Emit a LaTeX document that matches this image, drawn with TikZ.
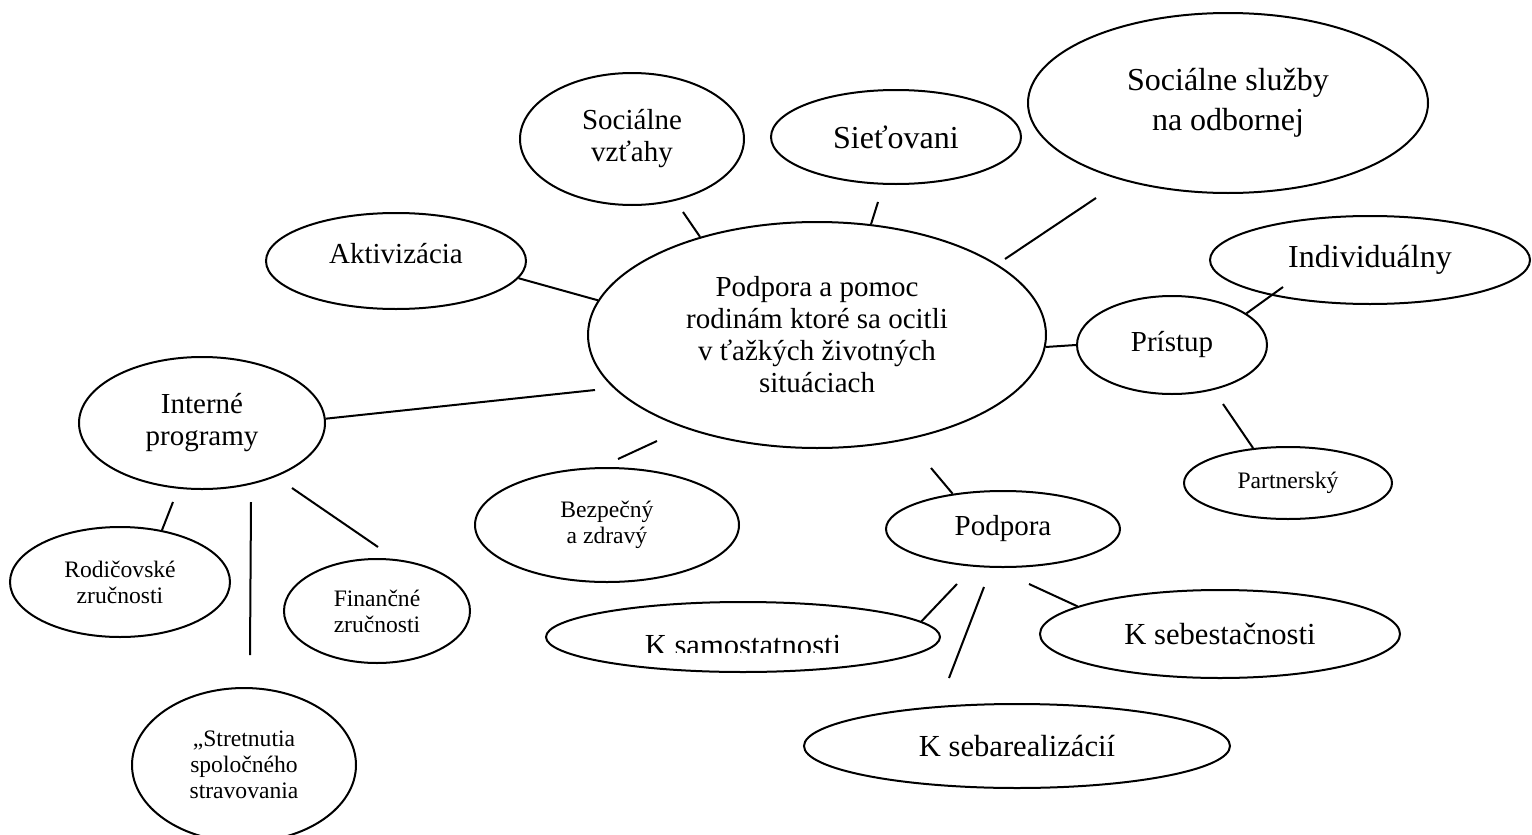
\documentclass[tikz,border=0pt]{standalone}
\usepackage{fontspec}
\setmainfont{Liberation Serif}
\usepackage{tikz}
\usetikzlibrary{shapes.geometric}

\tikzset{
	bubble/.style={ellipse, draw, line width=1pt, inner sep=0pt, align=center},
	bigtxt/.style={font=\fontsize{16}{20}\selectfont},
	ktxt/.style={font=\fontsize{15.3}{18}\selectfont},
	midtxt/.style={font=\fontsize{14.5}{16}\selectfont},
	smalltxt/.style={font=\fontsize{11.8}{12.9}\selectfont},
	link/.style={line width=1pt}
}

\begin{document}
\begin{tikzpicture}[x=0.5pt, y=-0.5pt]
	\clip (0,0) rectangle (1532,835);
	\fill [white] (0,0) rectangle (1532,835);

	% Centre
	\node [bubble, midtxt, minimum width=229pt, minimum height=113pt] at (817,335) (center) {Podpora a pomoc\\rodinám ktoré sa ocitli\\v ťažkých životných\\situáciach};

	% Upper ring
	\node [bubble, midtxt, minimum width=112pt, minimum height=66pt] at (632,139) (vztahy) {Sociálne\\vzťahy};
	\node [bubble, bigtxt, minimum width=125pt, minimum height=47pt] at (896,137) (siet) {Sieťovani};
	\node [bubble, bigtxt, minimum width=200pt, minimum height=90pt] at (1228,103) (sluzby) {Sociálne služby\\na odbornej};
	\node [bubble, midtxt, text depth=8pt, minimum width=130pt, minimum height=48pt] at (396,261) (aktiv) {Aktivizácia};

	% Right branch
	\node [bubble, midtxt, minimum width=95pt, minimum height=49pt] at (1172,345) (pristup) {Prístup};
	\node [bubble, bigtxt, minimum width=160pt, minimum height=44pt] at (1370,260) (indiv) {Individuálny};
	\node [bubble, smalltxt, minimum width=104pt, minimum height=36pt] at (1288,483) (partner) {Partnerský};

	% Left branch
	\node [bubble, midtxt, minimum width=123pt, minimum height=66pt] at (202,423) (interne) {Interné\\programy};
	\node [bubble, smalltxt, minimum width=110pt, minimum height=55pt] at (120,582) (rodic) {Rodičovské\\zručnosti};
	\node [bubble, smalltxt, minimum width=93pt, minimum height=52pt] at (377,611) (financ) {Finančné\\zručnosti};
	\node [bubble, smalltxt, minimum width=112pt, minimum height=77pt] at (244,765) (stretn) {„Stretnutia\\spoločného\\stravovania};

	% Lower branch
	\node [bubble, smalltxt, minimum width=132pt, minimum height=57pt] at (607,525) (bezpec) {Bezpečný\\a zdravý};
	\node [bubble, midtxt, minimum width=117pt, minimum height=38pt] at (1003,529) (podpora) {Podpora};
	\node [bubble, minimum width=197pt, minimum height=35pt] at (743,637) (samost) {};
	\begin{scope}
		\clip (546,600) rectangle (940,652);
		\node [ktxt, anchor=base] at (743,655) (samosttext) {K samostatnosti};
	\end{scope}
	\node [bubble, ktxt, minimum width=180pt, minimum height=44pt] at (1220,634) (sebest) {K sebestačnosti};
	\node [bubble, ktxt, minimum width=213pt, minimum height=42pt] at (1017,746) (sebareal) {K sebarealizácií};

	% Loose line ends
	\coordinate (vztahy-tip) at (683,212);
	\coordinate (siet-tip) at (878,202);
	\coordinate (sluzby-tip) at (1096,198);
	\coordinate (center-sluzby) at (1005,259);
	\coordinate (indiv-tip) at (1283,287);
	\coordinate (pristup-tip) at (1223,404);
	\coordinate (center-interne) at (595,390);
	\coordinate (bezpec-tip) at (618,459);
	\coordinate (center-bezpec) at (657,441);
	\coordinate (center-podpora) at (931,468);
	\coordinate (podpora-samost) at (957,584);
	\coordinate (podpora-sebareal) at (984,587);
	\coordinate (sebareal-tip) at (949,678);
	\coordinate (podpora-sebest) at (1029,584);
	\coordinate (interne-rodic) at (173,502);
	\coordinate (interne-stretn) at (251,502);
	\coordinate (stretn-tip) at (250,655);
	\coordinate (interne-financ) at (292,488);
	\coordinate (financ-tip) at (378,547);

	% Connections
	\draw [link] (vztahy-tip) -- (center.140);
	\draw [link] (siet-tip) -- (center.64);
	\draw [link] (sluzby-tip) -- (center-sluzby);
	\draw [link] (aktiv.-8) -- (center.171);
	\draw [link] (center.-3) -- (pristup.west);
	\draw [link] (pristup.23) -- (indiv-tip);
	\draw [link] (pristup-tip) -- (partner.135);
	\draw [link] (interne.2) -- (center-interne);
	\draw [link] (bezpec-tip) -- (center-bezpec);
	\draw [link] (center-podpora) -- (podpora.145);
	\draw [link] (podpora-samost) -- (samost.5);
	\draw [link] (podpora-sebareal) -- (sebareal-tip);
	\draw [link] (podpora-sebest) -- (sebest.169);
	\draw [link] (interne-rodic) -- (rodic.51);
	\draw [link] (interne-stretn) -- (stretn-tip);
	\draw [link] (interne-financ) -- (financ-tip);
\end{tikzpicture}
\end{document}
